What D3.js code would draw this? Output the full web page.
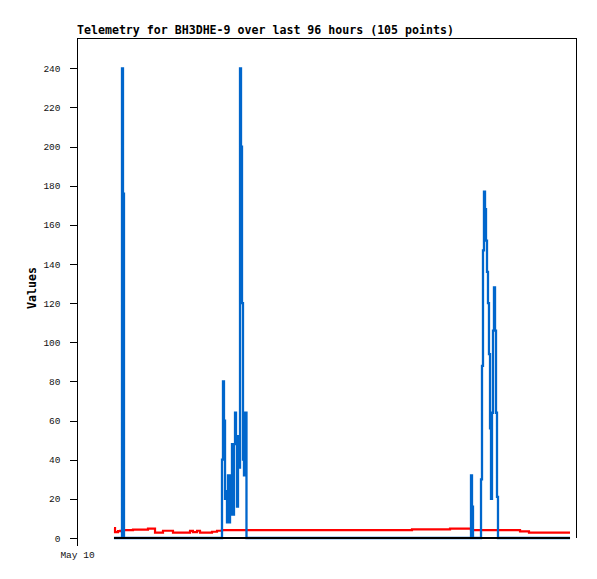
<!DOCTYPE html>
<html>
<head>
<meta charset="utf-8">
<script src="https://cdn.jsdelivr.net/npm/d3@7"></script>
<style>
  html, body { margin: 0; padding: 0; background: #fff; }
  svg { display: block; }
</style>
</head>
<body>
<div id="chart"></div>
<script>
// Hours after May 10 00:00 (UTC) for each of the 105 telemetry points
const hours = [
  7.10, 7.30, 7.87, 8.26, 8.64, 8.83, 9.02, 9.79, 10.75, 12.10,
  13.63, 14.98, 16.51, 18.43, 20.16, 21.70, 22.27, 23.04, 23.62, 24.77,
  25.92, 26.88, 27.84, 28.03, 28.22, 28.42, 28.61, 28.80, 28.99, 29.18,
  29.38, 29.57, 29.76, 29.95, 30.14, 30.34, 30.53, 30.72, 30.91, 31.10,
  31.30, 31.49, 31.68, 31.87, 32.06, 32.26, 32.54, 33.60, 34.75, 35.90,
  37.06, 38.21, 39.36, 40.51, 41.66, 42.82, 43.97, 45.12, 46.27, 48.58,
  50.88, 53.18, 55.49, 57.79, 60.10, 62.40, 64.32, 66.05, 67.78, 69.70,
  71.62, 72.96, 74.30, 75.65, 75.84, 76.03, 76.80, 77.57, 77.76, 77.95,
  78.14, 78.34, 78.53, 78.72, 78.91, 79.10, 79.30, 79.49, 79.68, 79.87,
  80.06, 80.26, 80.45, 80.64, 80.83, 82.18, 83.52, 85.06, 86.78, 88.32,
  89.86, 91.39, 92.93, 93.80, 94.66
];

// Series A (blue)
const valuesA = [
  0, 0, 0, 0, 240, 176, 0, 0, 0, 0,
  0, 0, 0, 0, 0, 0, 0, 0, 0, 0,
  0, 0, 40, 80, 60, 20, 24, 8, 32, 8,
  32, 12, 48, 12, 48, 64, 48, 16, 52, 36,
  240, 200, 120, 40, 32, 64, 0, 0, 0, 0,
  0, 0, 0, 0, 0, 0, 0, 0, 0, 0,
  0, 0, 0, 0, 0, 0, 0, 0, 0, 0,
  0, 0, 0, 32, 16, 0, 0, 30, 88, 147,
  177, 168, 152, 136, 120, 94, 56, 20, 64, 106,
  128, 106, 64, 21, 0, 0, 0, 0, 0, 0,
  0, 0, 0, 0, 0
];

// Series B (red)
const valuesB = [
  5, 3, 3.5, 3.7, 3.8, 4, 4, 4, 4.3, 4.3,
  4.8, 2.7, 3.7, 2.7, 2.7, 3.6, 3, 3.7, 2.7, 2.7,
  3.2, 3.7, 4, 4, 4, 4, 4, 4, 4, 4,
  4, 4, 4, 4, 4, 4, 4, 4, 4, 4,
  4, 4, 4, 4, 4, 4, 4, 4, 4, 4,
  4, 4, 4, 4, 4, 4, 4, 4, 4, 4,
  4, 4, 4, 4, 4, 4, 4.4, 4.4, 4.4, 4.4,
  4.8, 4.8, 4.8, 4, 4, 4, 4, 4, 4, 4,
  4, 4, 4, 4, 4, 4, 4, 4, 4, 4,
  4, 4, 4, 4, 4, 4, 4, 3.4, 2.7, 2.7,
  2.7, 2.7, 2.7, 2.7, 2.7
];

// Series C (black)
const valuesC = [
  0, 0, 0, 0, 0, 0, 0, 0, 0, 0,
  0, 0, 0, 0, 0, 0, 0, 0, 0, 0,
  0, 0, 0, 0, 0, 0, 0, 0, 0, 0,
  0, 0, 0, 0, 0, 0, 0, 0, 0, 0,
  0, 0, 0, 0, 0, 0, 0, 0, 0, 0,
  0, 0, 0, 0, 0, 0, 0, 0, 0, 0,
  0, 0, 0, 0, 0, 0, 0, 0, 0, 0,
  0, 0, 0, 0, 0, 0, 0, 0, 0, 0,
  0, 0, 0, 0, 0, 0, 0, 0, 0, 0,
  0, 0, 0, 0, 0, 0, 0, 0, 0, 0,
  0, 0, 0, 0, 0
];

const yTicks = [0, 20, 40, 60, 80, 100, 120, 140, 160, 180, 200, 220, 240];
const titleText = "Telemetry for BH3DHE-9 over last 96 hours (105 points)";
const yLabel = "Values";
const startTime = Date.UTC(2025, 4, 10, 0, 0, 0);
const xTickLabels = ["May 10"];

const W = 597, H = 579;
const margin = { left: 77, right: 20, top: 38, bottom: 41 };

const svg = d3.select("#chart").append("svg")
  .attr("width", W).attr("height", H);

const times = hours.map(h => new Date(startTime + h * 3600000));

const x = d3.scaleUtc()
  .domain([new Date(startTime), new Date(startTime + 96 * 3600000)])
  .range([margin.left, W - margin.right]);
const y = d3.scaleLinear()
  .domain([0, 255.5])
  .range([H - margin.bottom, margin.top]);

// frame: left, top, right
const x0 = margin.left, x1 = W - margin.right, yT = margin.top, yB = H - margin.bottom;
svg.append("path")
  .attr("d", `M${x0 + 0.5},${yB}V${yT + 0.5}H${x1 - 0.5}V${yB}`)
  .attr("fill", "none").attr("stroke", "#000").attr("stroke-width", 1)
  .attr("shape-rendering", "crispEdges");

const tickFont = "'Liberation Mono', 'DejaVu Sans Mono', monospace";

// Y axis
const yAxis = d3.axisLeft(y).tickValues(yTicks).tickSize(8).tickPadding(9);
const gy = svg.append("g").attr("transform", `translate(${x0 + 0.5},0)`).call(yAxis);
gy.select(".domain").remove();
gy.selectAll("line").attr("shape-rendering", "crispEdges");
gy.selectAll("text").attr("font-family", tickFont)
  .attr("font-size", "9.5px").attr("fill", "#111");

// X axis
const xAxis = d3.axisBottom(x).tickValues([new Date(startTime)])
  .tickFormat((d, i) => xTickLabels[i]).tickSize(8).tickPadding(5);
const gx = svg.append("g").attr("transform", `translate(0,${yB})`).call(xAxis);
gx.select(".domain").remove();
gx.selectAll("line").attr("shape-rendering", "crispEdges");
gx.selectAll("text").attr("font-family", tickFont)
  .attr("font-size", "9.5px").attr("fill", "#111");

// Title
svg.append("text")
  .attr("x", x0).attr("y", 34)
  .attr("font-family", "'DejaVu Sans Mono', monospace")
  .attr("font-weight", "bold").attr("font-size", "11.6px")
  .text(titleText);

// Y label
svg.append("text")
  .attr("transform", `translate(36,${(yT + yB) / 2}) rotate(-90)`)
  .attr("text-anchor", "middle")
  .attr("font-family", "'DejaVu Sans Mono', monospace")
  .attr("font-weight", "bold").attr("font-size", "11.6px")
  .text(yLabel);

function stepLine(vals) {
  return d3.line()
    .x((d, i) => x(times[i]))
    .y(d => y(d))
    .curve(d3.curveStepAfter)(vals);
}

svg.append("path").attr("d", stepLine(valuesB))
  .attr("fill", "none").attr("stroke", "#ff0000").attr("stroke-width", 2.2);
svg.append("path").attr("d", stepLine(valuesA))
  .attr("fill", "none").attr("stroke", "#0066cc").attr("stroke-width", 2.3);
svg.append("path").attr("d", stepLine(valuesC))
  .attr("fill", "none").attr("stroke", "#000000").attr("stroke-width", 2);
</script>
</body>
</html>
